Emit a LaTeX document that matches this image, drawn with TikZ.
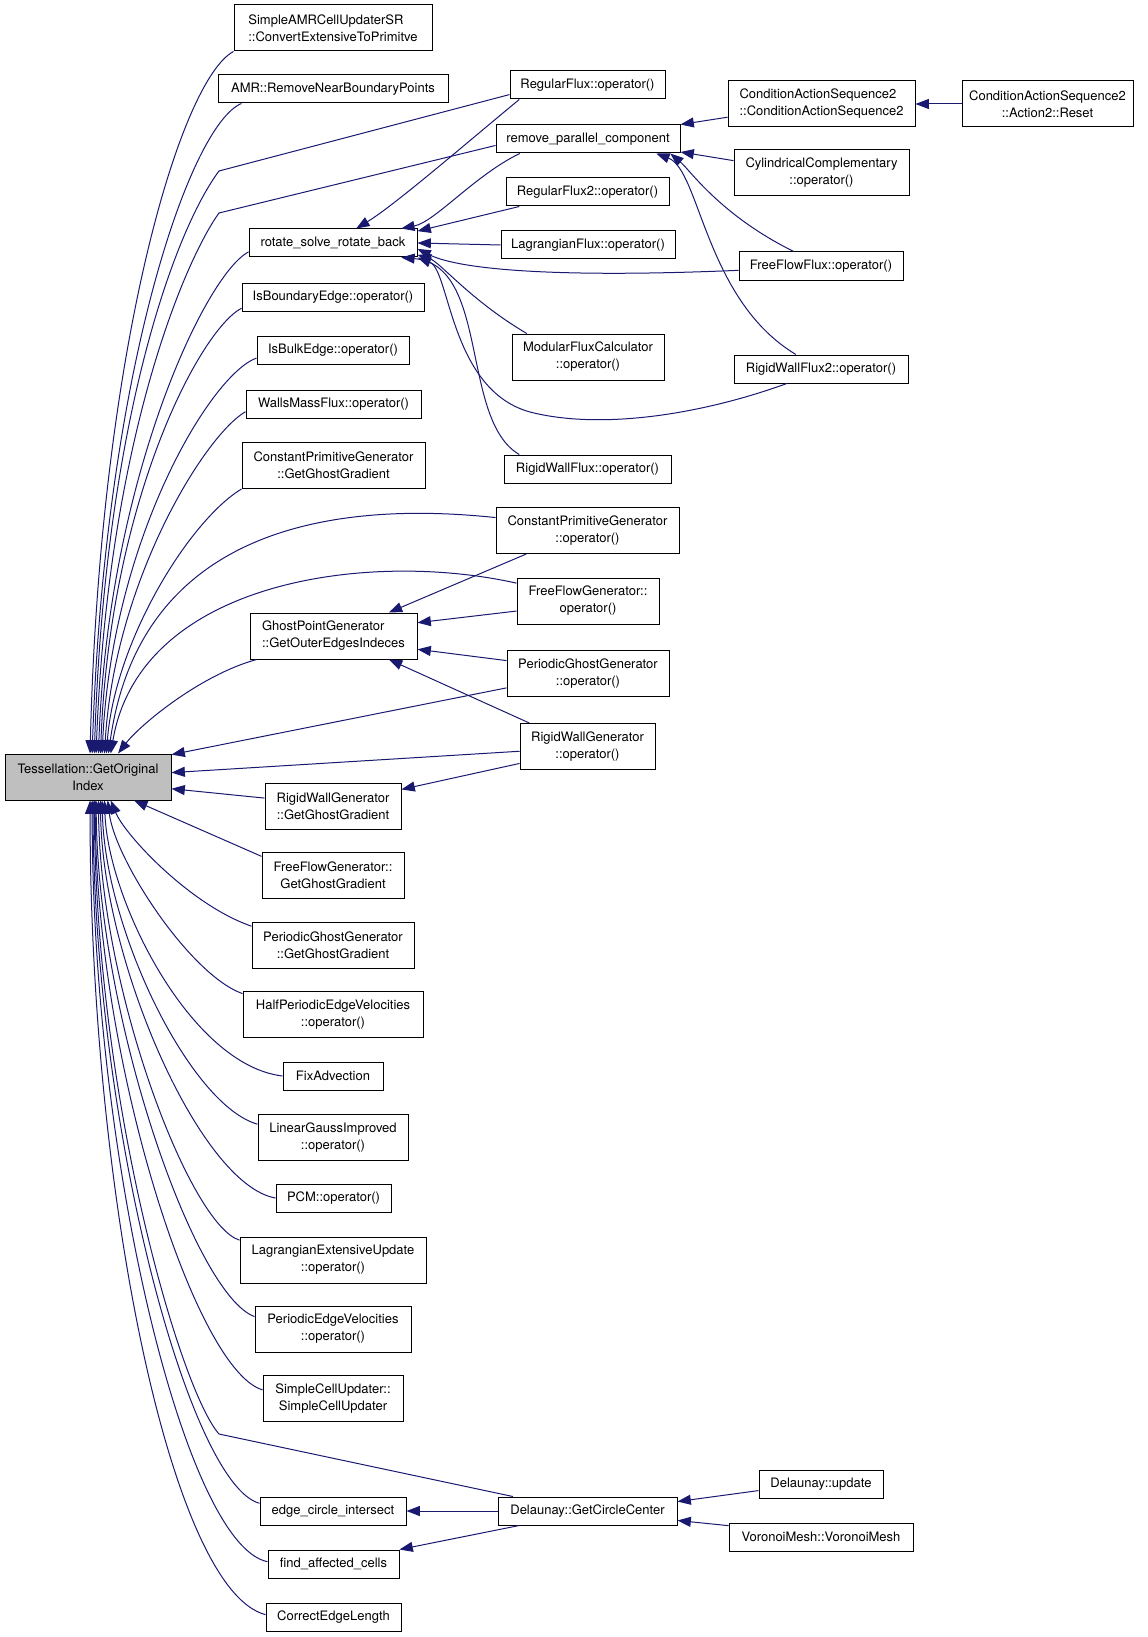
\documentclass[tikz,border=0pt]{standalone}
\usepackage{fontspec}
\setmainfont{TeX Gyre Heros}
\usetikzlibrary{arrows.meta}
\definecolor{linkblue}{RGB}{25,25,112}
\definecolor{hlgray}{RGB}{191,191,191}
\tikzset{every picture/.style={line width=0.75pt}}
\tikzset{
  box/.style={draw, inner sep=2pt, minimum height=21pt, font=\fontsize{9.75}{12.75}\selectfont},
  boxc/.style={box, minimum height=34.5pt, align=center},
  boxl/.style={box, minimum height=34.5pt, align=left},
  call/.style={draw=linkblue, {Triangle[length=10pt,width=7.5pt]}-}
}

\begin{document}
\begin{tikzpicture}[x=0.75pt,y=0.75pt,yscale=-1,xscale=1]
\useasboundingbox (0,0) rectangle (1147,1637);

% Function Nodes
\draw (88,777) node [boxc, minimum width=124.5pt, fill=hlgray] (tess) {Tessellation::GetOriginal\\Index};
\draw (333,28) node [boxl, minimum width=148.5pt] (samr) {SimpleAMRCellUpdaterSR\\::ConvertExtensiveToPrimitve};
\draw (333,89) node [box, minimum width=172.5pt] (amr) {AMR::RemoveNearBoundaryPoints};
\draw (333,243) node [box, minimum width=126pt] (rsrb) {rotate\_solve\_rotate\_back};
\draw (333,297) node [box, minimum width=136.5pt] (ibe) {IsBoundaryEdge::operator()};
\draw (333,350) node [box, minimum width=114pt] (ibk) {IsBulkEdge::operator()};
\draw (333.5,404) node [box, minimum width=131.25pt] (wmf) {WallsMassFlux::operator()};
\draw (333.5,465.5) node [boxc, minimum width=137.25pt] (cpgg) {ConstantPrimitiveGenerator\\::GetGhostGradient};
\draw (333.5,636) node [boxl, minimum width=125.25pt] (gpg) {GhostPointGenerator\\::GetOuterEdgesIndeces};
\draw (333,806.5) node [boxc, minimum width=102pt] (rwgg) {RigidWallGenerator\\::GetGhostGradient};
\draw (333,875.5) node [boxc, minimum width=106.5pt] (ffgg) {FreeFlowGenerator::\\GetGhostGradient};
\draw (333,945) node [boxc, minimum width=121.5pt] (pggg) {PeriodicGhostGenerator\\::GetGhostGradient};
\draw (333,1014.5) node [boxc, minimum width=135pt] (hpev) {HalfPeriodicEdgeVelocities\\::operator()};
\draw (333,1076) node [box, minimum width=75pt] (fixa) {FixAdvection};
\draw (333,1137.5) node [boxc, minimum width=112.5pt] (lgi) {LinearGaussImproved\\::operator()};
\draw (333.5,1198) node [box, minimum width=86.25pt] (pcm) {PCM::operator()};
\draw (333,1260) node [boxc, minimum width=139.5pt] (leu) {LagrangianExtensiveUpdate\\::operator()};
\draw (333,1329) node [boxc, minimum width=117pt] (pev) {PeriodicEdgeVelocities\\::operator()};
\draw (333,1398.5) node [boxc, minimum width=105pt] (scu) {SimpleCellUpdater::\\SimpleCellUpdater};
\draw (333,1511) node [box, minimum width=109.5pt] (eci) {edge\_circle\_intersect};
\draw (333.5,1564) node [box, minimum width=98.25pt] (fac) {find\_affected\_cells};
\draw (333.5,1617) node [box, minimum width=101.25pt] (cel) {CorrectEdgeLength};

\draw (587.5,85) node [box, minimum width=116.25pt] (rf) {RegularFlux::operator()};
\draw (588,139) node [box, minimum width=138pt] (rpc) {remove\_parallel\_component};
\draw (587.5,192) node [box, minimum width=122.25pt] (rf2) {RegularFlux2::operator()};
\draw (588,245) node [box, minimum width=130.5pt] (lf) {LagrangianFlux::operator()};
\draw (588,357) node [boxc, minimum width=114pt] (mfc) {ModularFluxCalculator\\::operator()};
\draw (587.5,469) node [box, minimum width=125.25pt] (rwf) {RigidWallFlux::operator()};
\draw (587.5,530.5) node [boxc, minimum width=137.25pt] (cpgo) {ConstantPrimitiveGenerator\\::operator()};
\draw (588,601) node [boxc, minimum width=106.5pt] (ffgo) {FreeFlowGenerator::\\operator()};
\draw (588,673.5) node [boxc, minimum width=121.5pt] (pggo) {PeriodicGhostGenerator\\::operator()};
\draw (587.5,746.5) node [boxc, minimum width=101.25pt] (rwgo) {RigidWallGenerator\\::operator()};
\draw (587.5,1511) node [box, minimum width=134.25pt] (dgcc) {Delaunay::GetCircleCenter};

\draw (821.5,104) node [boxl, minimum width=140.25pt] (cas) {ConditionActionSequence2\\::ConditionActionSequence2};
\draw (821.5,173) node [boxc, minimum width=131.25pt] (cyl) {CylindricalComplementary\\::operator()};
\draw (821,266) node [box, minimum width=123pt] (fff) {FreeFlowFlux::operator()};
\draw (821,369) node [box, minimum width=130.5pt] (rwf2) {RigidWallFlux2::operator()};
\draw (821,1484) node [box, minimum width=93pt] (dup) {Delaunay::update};
\draw (821,1537) node [box, minimum width=138pt] (vm) {VoronoiMesh::VoronoiMesh};
\draw (1047.5,104) node [boxc, minimum width=128.25pt] (reset) {ConditionActionSequence2\\::Action2::Reset};

%Curve Lines into the top of the highlighted node
\draw [call] (tess.85) .. controls (100,350) and (180,80) .. (samr.south west);
\draw [call] (tess.80) .. controls (105,370) and (190,125) .. (amr.189);
\draw [call] (tess.75) .. controls (105,420) and (175,230) .. (219,171) -- (rf.187);
\draw [call] (tess.71) .. controls (108,440) and (185,260) .. (219,213) -- (rpc.184);
\draw [call] (tess.66) .. controls (108,480) and (205,275) .. (rsrb.186);
\draw [call] (tess.62) .. controls (110,500) and (200,330) .. (ibe.187);
\draw [call] (tess.59) .. controls (112,540) and (210,375) .. (ibk.186);
\draw [call] (tess.55) .. controls (115,580) and (205,435) .. (wmf.185);
\draw [call] (tess.52) .. controls (115,640) and (190,520) .. (cpgg.south west);
\draw [call] (tess.49) .. controls (140,530) and (330,500) .. (cpgo.172);
\draw [call] (tess.46) .. controls (140,580) and (370,550) .. (ffgo.166);
\draw [call] (tess.38) .. controls (140,725) and (200,675) .. (gpg.197);

%Straight Lines into the right side
\draw [call] (tess.15) -- (pggo.190);
\draw [call] (tess.3) -- (rwgo.184);
\draw [call] (tess.-8) -- (rwgg.173);
\draw [call] (tess.-27) -- (ffgg.165);

%Curve Lines into the bottom
\draw [call] (tess.-46) .. controls (125,835) and (190,905) .. (pggg.167);
\draw [call] (tess.-50) .. controls (115,860) and (190,975) .. (hpev.167);
\draw [call] (tess.-55) .. controls (108,900) and (190,1065) .. (fixa.west);
\draw [call] (tess.-59) .. controls (105,930) and (190,1105) .. (lgi.170);
\draw [call] (tess.-62) .. controls (102,960) and (200,1185) .. (pcm.west);
\draw [call] (tess.-66) .. controls (100,990) and (190,1225) .. (leu.168);
\draw [call] (tess.-71) .. controls (98,1020) and (195,1295) .. (pev.171);
\draw [call] (tess.-73) .. controls (96,1060) and (195,1370) .. (scu.173);
\draw [call] (tess.-75) .. controls (96,1100) and (180,1390) .. (219,1434) -- (dgcc.169);
\draw [call] (tess.-78) .. controls (94,1130) and (190,1485) .. (eci.174);
\draw [call] (tess.-80) .. controls (92,1160) and (185,1545) .. (fac.178);
\draw [call] (tess.-85) .. controls (90,1190) and (170,1590) .. (cel.178);

%Callers of rotate_solve_rotate_back
\draw [call] (rsrb.32) .. controls (395,205) and (470,140) .. (rf.192);
\draw [call] (rsrb.12) .. controls (435,222) and (475,175) .. (rpc.192);
\draw [call] (rsrb.8) -- (rf2.192);
\draw [call] (rsrb.east) -- (lf.west);
\draw [call] (rsrb.-4) .. controls (460,270) and (560,278) .. (fff.183);
\draw [call] (rsrb.-8) .. controls (440,262) and (470,300) .. (mfc.159);
\draw [call] (rsrb.south east) .. controls (450,270) and (450,390) .. (530,412) .. controls (600,430) and (700,415) .. (rwf2.203);
\draw [call] (rsrb.-12) .. controls (490,265) and (460,420) .. (rwf.168);

%Callers of remove_parallel_component
\draw [call] (rpc.north east) -- (cas.188);
\draw [call] (rpc.-8) -- (cyl.172);
\draw [call] (rpc.-10) .. controls (690,170) and (720,215) .. (fff.152);
\draw [call] (rpc.-12) .. controls (700,170) and (705,300) .. (rwf2.150);
\draw [call] (cas.east) -- (reset.west);

%Callers of GhostPointGenerator and RigidWallGenerator
\draw [call] (gpg.23) -- (cpgo.201);
\draw [call] (gpg.9) -- (ffgo.188);
\draw [call] (gpg.-9) -- (pggo.171);
\draw [call] (gpg.-23) -- (rwgo.158);
\draw [call] (rwgg.14) -- (rwgo.194);

%Delaunay part
\draw [call] (dgcc.6) -- (dup.186);
\draw [call] (dgcc.-6) -- (vm.173);
\draw [call] (eci.east) -- (dgcc.west);
\draw [call] (fac.north east) -- (dgcc.192);

\end{tikzpicture}
\end{document}
